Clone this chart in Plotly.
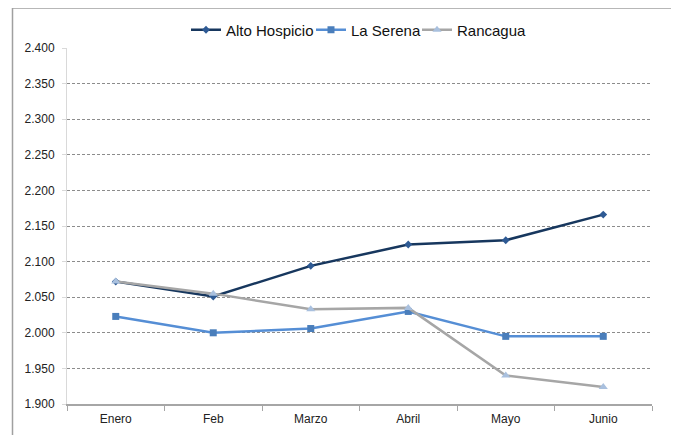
import plotly.graph_objects as go

months = ["Enero", "Feb", "Marzo", "Abril", "Mayo", "Junio"]
alto_hospicio = [2.072, 2.051, 2.094, 2.124, 2.130, 2.166]
la_serena = [2.023, 2.000, 2.006, 2.030, 1.995, 1.995]
rancagua = [2.072, 2.055, 2.033, 2.035, 1.940, 1.924]
y_ticks = [1.900, 1.950, 2.000, 2.050, 2.100, 2.150, 2.200, 2.250, 2.300, 2.350, 2.400]

FONT = "Liberation Sans Narrow, Arial Narrow, Liberation Sans, Arial, sans-serif"

# page body adds an 8px offset; figure is sized/margined to compensate
OFF = 8
PL, PR, PT, PB = 67 - OFF, 652 - OFF, 48 - OFF, 404 - OFF
W, H = 679 - OFF, 435 - OFF
PW, PH = PR - PL, PB - PT


def px_x(v):
    return (v - OFF - PL) / PW


def px_y(v):
    return (PB - (v - OFF)) / PH


fig = go.Figure()
fig.add_trace(go.Scatter(
    x=months, y=alto_hospicio, name="Alto Hospicio", mode="lines+markers",
    line=dict(color="#17375E", width=2.5),
    marker=dict(symbol="diamond", size=6, color="#2E5A94"),
    legend="legend",
))
fig.add_trace(go.Scatter(
    x=months, y=la_serena, name="La Serena", mode="lines+markers",
    line=dict(color="#558ED5", width=2.5),
    marker=dict(symbol="square", size=7, color="#4A7EBB"),
    legend="legend2",
))
fig.add_trace(go.Scatter(
    x=months, y=rancagua, name="Rancagua", mode="lines+markers",
    line=dict(color="#A6A6A6", width=2.5),
    marker=dict(symbol="triangle-up", size=8, color="#A9C0DE"),
    legend="legend3",
))

leg_common = dict(
    orientation="h", xanchor="left", y=px_y(30), yanchor="middle",
    font=dict(family=FONT, size=15, color="#111111"),
    bgcolor="rgba(0,0,0,0)", itemwidth=30,
)

fig.update_layout(
    width=W, height=H,
    margin=dict(l=PL, r=W - PR, t=PT, b=H - PB, autoexpand=False),
    paper_bgcolor="white", plot_bgcolor="white",
    font=dict(family=FONT, size=11, color="#222222"),
    showlegend=True,
    legend=dict(x=px_x(226 - 40), **leg_common),
    legend2=dict(x=px_x(351 - 40), **leg_common),
    legend3=dict(x=px_x(457 - 40), **leg_common),
    xaxis=dict(
        type="category", tickson="boundaries", ticks="outside", ticklen=5,
        tickcolor="#A6A6A6", showline=True, linecolor="#A6A6A6", linewidth=1.5,
        showgrid=False, zeroline=False, range=[-0.5, 5.5],
        ticklabelstandoff=3,
        tickfont=dict(family=FONT, size=12, color="#222222"),
    ),
    yaxis=dict(
        range=[1.9, 2.4], tickvals=y_ticks, tickformat=".3f",
        ticks="outside", ticklen=4, tickcolor="#D9D9D9",
        showline=True, linecolor="#D9D9D9", linewidth=1,
        showgrid=True, gridcolor="#8C8C8C", gridwidth=1, griddash="3px,2px",
        zeroline=False, ticklabelstandoff=5,
        tickfont=dict(family=FONT, size=12, color="#222222"),
    ),
    shapes=[dict(
        type="rect", xref="paper", yref="paper",
        x0=px_x(12.5), x1=px_x(675),
        y0=px_y(445), y1=px_y(8),
        line=dict(color="#A0A0A0", width=1.5), fillcolor="rgba(0,0,0,0)",
        layer="below",
    )],
)

fig.write_html("out.html")
